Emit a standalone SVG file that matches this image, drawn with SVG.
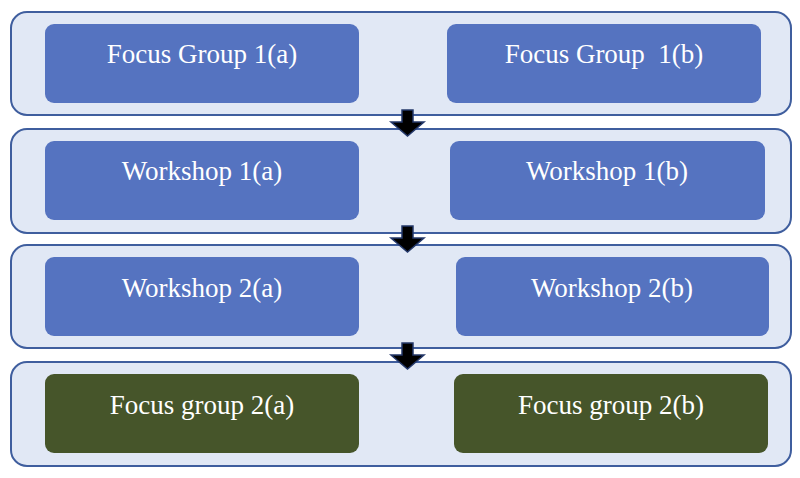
<svg xmlns="http://www.w3.org/2000/svg" width="800" height="478" viewBox="0 0 800 478">
<style>
.panel{fill:#e1e8f5;stroke:#3f5e9e;stroke-width:2}
.blue{fill:#5573c0}
.green{fill:#46552a}
.t{font-family:"Liberation Serif","Times New Roman",serif;font-size:27px;fill:#ffffff;text-anchor:middle}
.arr{fill:#000000;stroke:#24386a;stroke-width:1.5;stroke-linejoin:miter}
</style>
<rect width="800" height="478" fill="#ffffff"/>
<g id="panel1"><rect class="panel" x="11" y="12" width="780" height="103" rx="16"/></g>
<g id="panel2"><rect class="panel" x="11" y="129" width="780" height="104" rx="16"/></g>
<g id="panel3"><rect class="panel" x="11" y="245" width="780" height="103" rx="16"/></g>
<g id="panel4"><rect class="panel" x="11" y="362" width="780" height="104" rx="16"/></g>
<g id="connectors">
<path class="arr" d="M402,110 H413 V122 H424 L407.5,136 L391,122 H402 Z"/>
<path class="arr" d="M402,226 H413 V238 H424 L407.5,252 L391,238 H402 Z"/>
<path class="arr" d="M402,343 H413 V355 H424 L407.5,369 L391,355 H402 Z"/>
</g>
<g id="fg1a"><rect class="blue" x="45" y="24" width="314" height="79" rx="9"/><text class="t" x="202" y="63">Focus Group 1(a)</text></g>
<g id="fg1b"><rect class="blue" x="447" y="24" width="314" height="79" rx="9"/><text class="t" x="604" y="63" xml:space="preserve">Focus Group  1(b)</text></g>
<g id="ws1a"><rect class="blue" x="45" y="141" width="314" height="79" rx="9"/><text class="t" x="202" y="180">Workshop 1(a)</text></g>
<g id="ws1b"><rect class="blue" x="450" y="141" width="315" height="79" rx="9"/><text class="t" x="607" y="180">Workshop 1(b)</text></g>
<g id="ws2a"><rect class="blue" x="45" y="257" width="314" height="79" rx="9"/><text class="t" x="202" y="297">Workshop 2(a)</text></g>
<g id="ws2b"><rect class="blue" x="456" y="257" width="313" height="79" rx="9"/><text class="t" x="612" y="297">Workshop 2(b)</text></g>
<g id="fg2a"><rect class="green" x="45" y="374" width="314" height="79" rx="9"/><text class="t" x="202" y="414">Focus group 2(a)</text></g>
<g id="fg2b"><rect class="green" x="454" y="374" width="314" height="79" rx="9"/><text class="t" x="611" y="414">Focus group 2(b)</text></g>
</svg>
